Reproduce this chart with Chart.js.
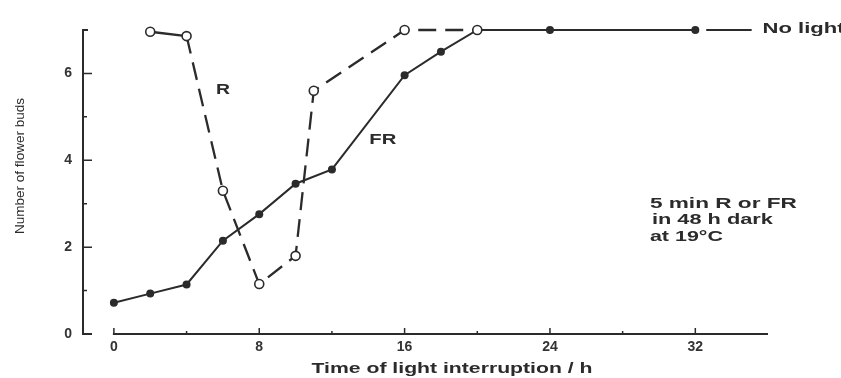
<!DOCTYPE html>
<html>
<head>
<meta charset="utf-8">
<script src="https://cdn.jsdelivr.net/npm/chart.js@4"></script>
<style>
  html, body { margin: 0; padding: 0; background: #fff; }
  #wrap { width: 841px; height: 378px; position: relative; }
</style>
</head>
<body>
<div id="wrap"><canvas id="chart1"></canvas></div>
<script>
// hours of light interruption and number of flower buds
var frHours = [0, 2, 4, 6, 8, 10, 12, 16, 18, 20, 24, 32];
var frBuds  = [0.72, 0.93, 1.14, 2.15, 2.76, 3.46, 3.79, 5.96, 6.5, 7.0, 7.0, 7.0];

var rHours = [2, 4, 6, 8, 10, 11, 16, 20];
var rBuds  = [6.96, 6.86, 3.3, 1.15, 1.8, 5.6, 7.0, 7.0];

var xTicks = [0, 8, 16, 24, 32];
var xMinor = [4, 12, 20, 28];
var yTicks = [0, 2, 4, 6];
var yMinor = [1, 3, 5];

var ink = '#2b2b2b';

function toPoints(xs, ys) {
    var pts = [];
    for (var i = 0; i < xs.length; i++) pts.push({ x: xs[i], y: ys[i] });
    return pts;
}

// draw text squeezed/stretched to a given width (the scan is stretched sideways)
function fitText(ctx, text, x, y, w, align) {
    var m = ctx.measureText(text).width;
    ctx.save();
    ctx.translate(x, y);
    ctx.scale(w / m, 1);
    ctx.textAlign = align || 'left';
    ctx.fillText(text, 0, 0);
    ctx.restore();
}

var paperAxes = {
    id: 'paperAxes',
    beforeDatasetsDraw: function (chart) {
        var ctx = chart.ctx, xs = chart.scales.x, ys = chart.scales.y;
        var left = chart.chartArea.left, right = chart.chartArea.right;
        var y0 = ys.getPixelForValue(0), yTop = ys.getPixelForValue(7);
        var x0 = xs.getPixelForValue(0);
        ctx.save();
        ctx.strokeStyle = ink;
        ctx.lineWidth = 2;
        ctx.beginPath();
        // y axis with serif at top and foot at bottom
        ctx.moveTo(left + 5, yTop); ctx.lineTo(left, yTop); ctx.lineTo(left, y0); ctx.lineTo(left + 9, y0);
        // x axis
        ctx.moveTo(x0 - 1, y0); ctx.lineTo(right, y0);
        ctx.stroke();
        ctx.lineWidth = 1.5;
        ctx.beginPath();
        yTicks.forEach(function (v) { if (v > 0) { var p = ys.getPixelForValue(v); ctx.moveTo(left, p); ctx.lineTo(left + 9, p); } });
        yMinor.forEach(function (v) { var p = ys.getPixelForValue(v); ctx.moveTo(left, p); ctx.lineTo(left + 4, p); });
        xTicks.forEach(function (v) { var p = xs.getPixelForValue(v); ctx.moveTo(p, y0); ctx.lineTo(p, y0 - 6); });
        xMinor.forEach(function (v) { var p = xs.getPixelForValue(v); ctx.moveTo(p, y0); ctx.lineTo(p, y0 - 3); });
        ctx.stroke();
        ctx.restore();
    },
    afterDatasetsDraw: function (chart) {
        var ctx = chart.ctx, xs = chart.scales.x, ys = chart.scales.y;
        ctx.save();
        ctx.fillStyle = ink;
        ctx.strokeStyle = ink;
        ctx.textBaseline = 'middle';

        // "No light" key line
        ctx.lineWidth = 2;
        ctx.beginPath();
        ctx.moveTo(xs.getPixelForValue(32.6), ys.getPixelForValue(7));
        ctx.lineTo(xs.getPixelForValue(35.1), ys.getPixelForValue(7));
        ctx.stroke();
        ctx.font = 'bold 15px "Liberation Sans", Arial, sans-serif';
        fitText(ctx, 'No light', xs.getPixelForValue(35.7), ys.getPixelForValue(7.03), 82);

        // series labels
        ctx.font = 'bold 14px "Liberation Sans", Arial, sans-serif';
        fitText(ctx, 'R', xs.getPixelForValue(6.0), ys.getPixelForValue(5.62), 14, 'center');
        fitText(ctx, 'FR', xs.getPixelForValue(14.8), ys.getPixelForValue(4.47), 27, 'center');

        // condition note
        ctx.font = 'bold 14px "Liberation Sans", Arial, sans-serif';
        var nx = xs.getPixelForValue(29.5);
        fitText(ctx, '5 min R or FR', nx, ys.getPixelForValue(3.0), 147);
        fitText(ctx, 'in 48 h dark', nx + 2, ys.getPixelForValue(2.62), 121);
        fitText(ctx, 'at 19\u00B0C', nx, ys.getPixelForValue(2.24), 73);

        // axis titles
        ctx.font = 'bold 15px "Liberation Sans", Arial, sans-serif';
        fitText(ctx, 'Time of light interruption / h', 452, 369, 281, 'center');

        ctx.font = '13px "Liberation Sans", Arial, sans-serif';
        ctx.save();
        ctx.translate(20, 166);
        ctx.rotate(-Math.PI / 2);
        fitText(ctx, 'Number of flower buds', 0, 0, 136, 'center');
        ctx.restore();

        ctx.restore();
    }
};

var ctx = document.getElementById('chart1').getContext('2d');

var myChart = new Chart(ctx, {
    type: 'line',
    data: {
        datasets: [{
            label: 'R',
            data: toPoints(rHours, rBuds),
            order: 0,
            borderColor: ink,
            borderWidth: 2.3,
            pointRadius: 4.5,
            pointBackgroundColor: '#fff',
            pointBorderColor: ink,
            pointBorderWidth: 1.6,
            tension: 0,
            clip: false,
            segment: {
                borderDash: function (c) { return c.p0DataIndex === 0 ? [] : [18, 9]; }
            }
        }, {
            label: 'FR',
            data: toPoints(frHours, frBuds),
            order: 1,
            borderColor: ink,
            borderWidth: 2,
            pointRadius: 4,
            pointBackgroundColor: ink,
            pointBorderWidth: 0,
            tension: 0,
            clip: false
        }]
    },
    options: {
        responsive: true,
        maintainAspectRatio: false,
        animation: false,
        events: [],
        layout: { padding: { top: 30, right: 73, left: 0, bottom: 0 } },
        plugins: {
            legend: { display: false },
            tooltip: { enabled: false }
        },
        scales: {
            x: {
                type: 'linear',
                min: -1.7,
                max: 36,
                grid: { display: false, drawTicks: false },
                border: { display: false },
                afterBuildTicks: function (scale) { scale.ticks = xTicks.map(function (v) { return { value: v }; }); },
                afterFit: function (scale) { scale.height = 44; },
                ticks: {
                    padding: 5,
                    color: '#333',
                    font: { family: '"Liberation Sans", Arial, sans-serif', size: 14, weight: 'bold' }
                }
            },
            y: {
                type: 'linear',
                min: 0,
                max: 7,
                grid: { display: false, drawTicks: false },
                border: { display: false },
                afterBuildTicks: function (scale) { scale.ticks = yTicks.map(function (v) { return { value: v }; }); },
                afterFit: function (scale) { scale.width = 83; },
                ticks: {
                    padding: 11,
                    color: '#333',
                    font: { family: '"Liberation Sans", Arial, sans-serif', size: 14, weight: 'bold' }
                }
            }
        }
    },
    plugins: [paperAxes]
});
</script>
</body>
</html>
